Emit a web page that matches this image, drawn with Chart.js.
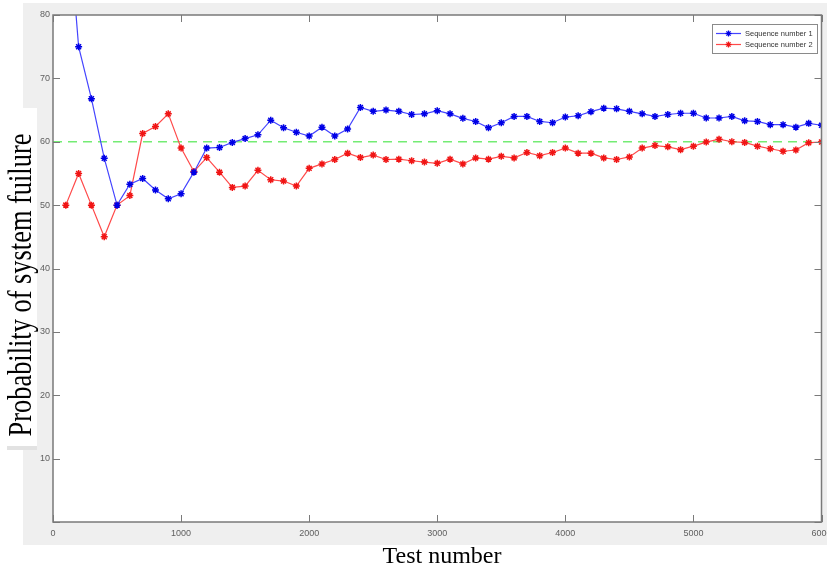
<!DOCTYPE html>
<html><head><meta charset="utf-8">
<script src="https://cdn.jsdelivr.net/npm/chart.js@4.4.1/dist/chart.umd.min.js"></script>
<style>
html,body{margin:0;padding:0;background:#fff;}
#wrap{position:relative;width:827px;height:569px;overflow:hidden;}
.bg{position:absolute;}
canvas{position:absolute;left:0;top:0;}
#ytitle{position:absolute;left:-180px;top:268px;width:400px;height:34px;line-height:34px;text-align:center;font-family:'Liberation Serif','Times New Roman',serif;font-size:33px;color:#000;transform:rotate(-90deg) scaleX(0.8);white-space:nowrap;}
#xtitle{position:absolute;left:342px;top:543px;width:200px;height:24px;line-height:24px;text-align:center;font-family:'Liberation Serif','Times New Roman',serif;font-size:24px;color:#000;white-space:nowrap;}
</style>
</head><body>
<div id="wrap">
  <div class="bg" style="left:23px;top:3px;width:804px;height:542px;background:#efefef;"></div>
  <div class="bg" style="left:0;top:108px;width:37px;height:338px;background:#fff;"></div>
  <div class="bg" style="left:7px;top:446px;width:30px;height:4px;background:#e2e2e2;"></div>
  <canvas id="c" width="827" height="569"></canvas>
  <div id="ytitle">Probability of system fuilure</div>
  <div id="xtitle">Test number</div>
</div>
<script>
const testNumbers = [100,200,300,400,500,600,700,800,900,1000,
  1100,1200,1300,1400,1500,1600,1700,1800,1900,2000,
  2100,2200,2300,2400,2500,2600,2700,2800,2900,3000,
  3100,3200,3300,3400,3500,3600,3700,3800,3900,4000,
  4100,4200,4300,4400,4500,4600,4700,4800,4900,5000,
  5100,5200,5300,5400,5500,5600,5700,5800,5900,6000];
const seq1Values = [100,75,66.8,57.4,50,53.3,54.2,52.4,51,51.8,
  55.2,59,59.1,59.9,60.5,61.1,63.4,62.2,61.5,60.9,
  62.3,60.9,62.0,65.4,64.8,65.0,64.8,64.3,64.4,64.9,
  64.4,63.7,63.2,62.2,63.0,64.0,64.0,63.2,63.0,63.9,
  64.1,64.75,65.3,65.2,64.8,64.4,64.0,64.3,64.5,64.5,
  63.75,63.75,64.0,63.3,63.2,62.7,62.7,62.3,62.9,62.6];
const seq2Values = [50,55,50,45,50,51.5,61.3,62.4,64.4,59,
  55.3,57.5,55.2,52.8,53.0,55.5,54.0,53.8,53.0,55.8,
  56.5,57.2,58.2,57.5,57.9,57.2,57.25,57.0,56.8,56.6,
  57.25,56.5,57.45,57.25,57.7,57.45,58.3,57.8,58.3,59.0,
  58.2,58.2,57.45,57.2,57.6,59.0,59.4,59.2,58.75,59.3,
  59.95,60.4,60.0,59.9,59.3,58.9,58.5,58.7,59.85,59.95];
const referenceLevel = 60;
const referenceRange = [0, 6000];
const seriesNames = ['Sequence number 1','Sequence number 2'];

const toPts = vals => testNumbers.map((t,i)=>({x:t,y:vals[i]}));

const framePlugin = {
  id:'frame',
  beforeDraw(chart){
    const {ctx, chartArea:a} = chart;
    ctx.save(); ctx.fillStyle='#fff';
    ctx.fillRect(a.left,a.top,a.right-a.left,a.bottom-a.top);
    ctx.restore();
  },
  afterDatasetsDraw(chart){
    const {ctx, chartArea:a, scales:{x,y}} = chart;
    ctx.save();
    ctx.strokeStyle='#7a7a7a'; ctx.lineWidth=1;
    const ln=(x1,y1,x2,y2)=>{ctx.beginPath();ctx.moveTo(x1,y1);ctx.lineTo(x2,y2);ctx.stroke();};
    x.ticks.forEach(t=>{const px=Math.round(x.getPixelForValue(t.value))+0.5; ln(px,a.bottom,px,a.bottom-7); ln(px,a.top,px,a.top+7);});
    y.ticks.forEach(t=>{const py=Math.round(y.getPixelForValue(t.value))+0.5; ln(a.left,py,a.left+7,py); ln(a.right,py,a.right-7,py);});
    ctx.lineWidth=1.5;
    ctx.strokeRect(a.left,a.top,a.right-a.left,a.bottom-a.top);
    // legend
    const bx=712, by=24, bw=105, bh=29;
    ctx.fillStyle='#fff'; ctx.fillRect(bx,by,bw,bh);
    ctx.lineWidth=1; ctx.strokeStyle='#8a8a8a'; ctx.strokeRect(bx+0.5,by+0.5,bw,bh);
    chart.data.datasets.slice(0,2).forEach((ds,i)=>{
      const yy = by+9.5+i*11;
      ctx.strokeStyle=ds.borderColor; ctx.lineWidth=1.2;
      ln(716,yy,741,yy);
      ctx.strokeStyle=ds.pointBorderColor; ctx.lineWidth=1.3;
      const cx=728.5, r=3;
      ln(cx-r,yy,cx+r,yy); ln(cx,yy-r,cx,yy+r);
      const d=r*0.7; ln(cx-d,yy-d,cx+d,yy+d); ln(cx-d,yy+d,cx+d,yy-d);
      ctx.fillStyle='#333'; ctx.font="7.5px 'Liberation Sans', Arial, sans-serif";
      ctx.textBaseline='middle'; ctx.textAlign='left';
      ctx.fillText(ds.label, 745, yy);
    });
    ctx.restore();
  }
};

const tickFont = {family:"'Liberation Sans Narrow','Liberation Sans',Arial,sans-serif", size:9};

new Chart(document.getElementById('c'), {
  type:'line',
  data:{
    datasets:[
      {label:seriesNames[0], data:toPts(seq1Values), borderColor:'#4444ff', borderWidth:1.2,
       pointStyle:'star', pointRadius:3.5, pointBorderColor:'#0000e6', pointBorderWidth:1.5, pointBackgroundColor:'#0000e6', tension:0},
      {label:seriesNames[1], data:toPts(seq2Values), borderColor:'#ff4a4a', borderWidth:1.2,
       pointStyle:'star', pointRadius:3.5, pointBorderColor:'#f01515', pointBorderWidth:1.5, pointBackgroundColor:'#f01515', tension:0},
      {label:'ref', data:referenceRange.map(v=>({x:v,y:referenceLevel})), borderColor:'#74ec74', borderWidth:1.5,
       borderDash:[9,6], pointRadius:0, tension:0}
    ]
  },
  options:{
    responsive:false, animation:false, devicePixelRatio:1,
    layout:{padding:{left:28,right:2,top:15,bottom:27}},
    plugins:{legend:{display:false}, tooltip:{enabled:false}},
    scales:{
      x:{type:'linear', min:0, max:6000,
         grid:{display:false, drawTicks:false}, border:{display:false},
         ticks:{stepSize:1000, font:tickFont, color:'#606060', padding:6, maxRotation:0,
                callback:v=>String(v)},
         afterFit:s=>{s.height=20; s.paddingLeft=0; s.paddingRight=0;}},
      y:{min:0, max:80,
         grid:{display:false, drawTicks:false}, border:{display:false},
         ticks:{stepSize:10, font:tickFont, color:'#606060', padding:3,
                callback:v=> v===0 ? '' : String(v)},
         afterFit:s=>{s.width=25; s.paddingTop=0; s.paddingBottom=0;}}
    }
  },
  plugins:[framePlugin]
});
</script>
</body></html>
